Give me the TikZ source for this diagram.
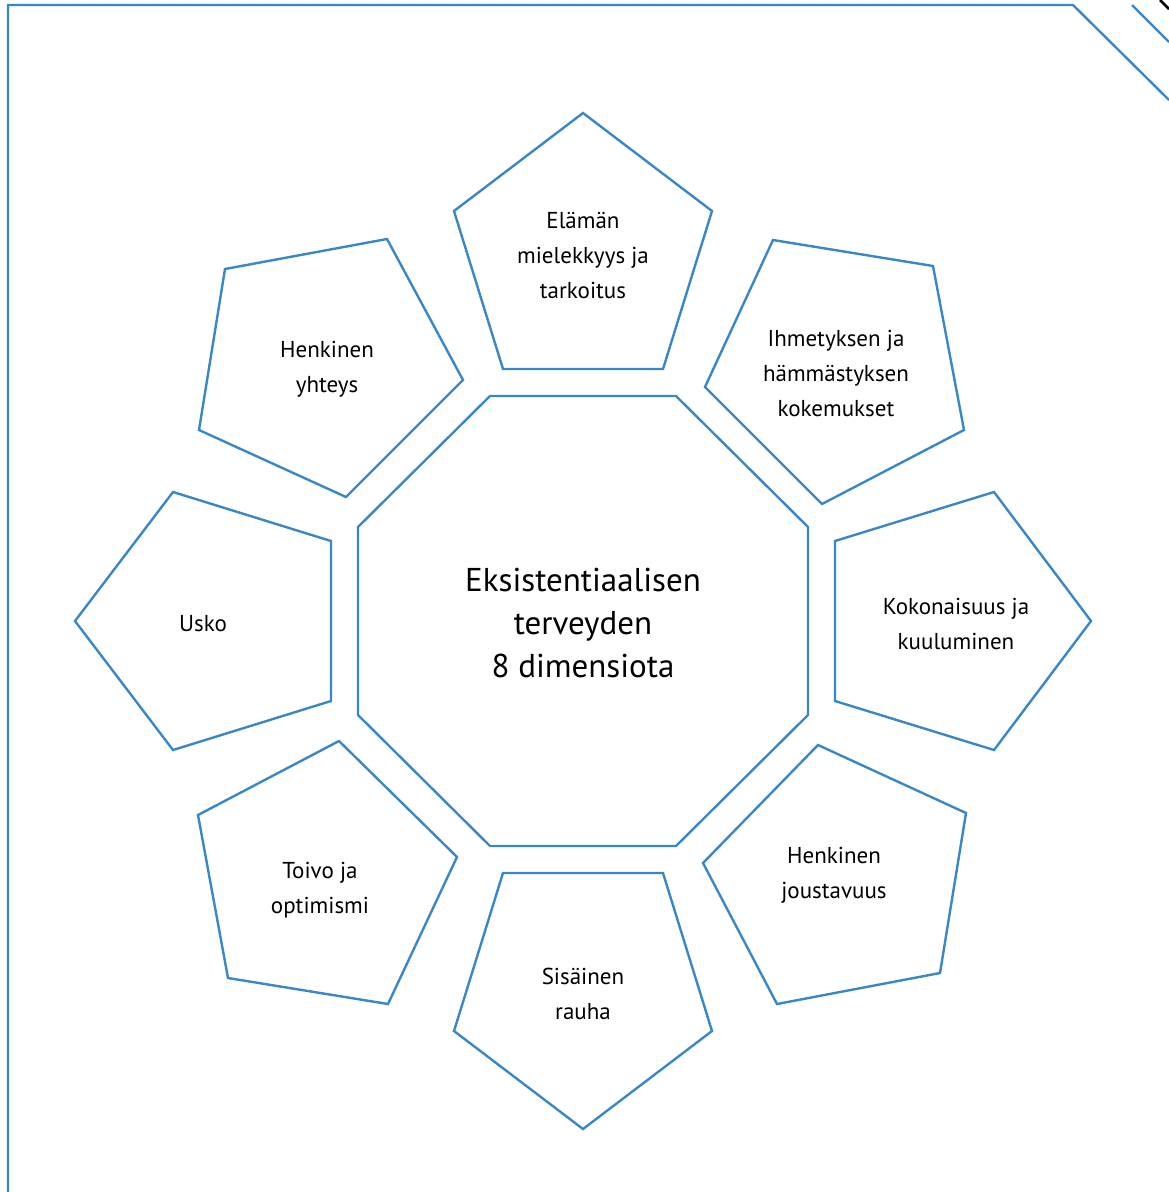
\documentclass[tikz,border=0pt]{standalone}
\usepackage{fontspec}
\setmainfont{PT Sans}
\definecolor{fblue}{HTML}{3A87C8}
\tikzset{
  shp/.style={draw=fblue, line width=2.4pt, line join=miter},
  lbl/.style={align=center, font=\fontsize{23}{35}\selectfont, inner sep=0pt},
  ctr/.style={align=center, font=\fontsize{33}{43}\selectfont, inner sep=0pt}
}
\begin{document}
\begin{tikzpicture}[x=1pt,y=-1pt]
\useasboundingbox (0,0) rectangle (1169,1192);
% frame
\draw[shp] (8,1192) -- (8,5) -- (1073,5) -- (1169,100);
\draw[shp] (1132,5) -- (1169,42);
\draw[line width=2.5pt] (1160,0) -- (1169,9);
% octagon
\draw[shp] (490,396) -- (676,396) -- (808,527) -- (808,715) -- (676,846) -- (490,846) -- (358,715) -- (358,527) -- cycle;
\node[ctr] (c) at (583,623) {Eksistentiaalisen\\terveyden\\8 dimensiota};
% pentagons
\draw[shp] (583,113) -- (712,211) -- (663,369) -- (503,369) -- (454,211) -- cycle;
\node[lbl] (p1) at (583,256) {Elämän\\mielekkyys ja\\tarkoitus};
\draw[shp] (773,240) -- (933,266) -- (964,430) -- (822,504) -- (705,387) -- cycle;
\node[lbl] (p2) at (836,373) {Ihmetyksen ja\\hämmästyksen\\kokemukset};
\draw[shp] (835,541) -- (994,492) -- (1091,621) -- (994,750) -- (835,701) -- cycle;
\node[lbl] (p3) at (956,624) {Kokonaisuus ja\\kuuluminen};
\draw[shp] (818,745) -- (966,813) -- (940,973) -- (777,1004) -- (703,863) -- cycle;
\node[lbl] (p4) at (834,875) {Henkinen\\joustavuus};
\draw[shp] (503,873) -- (663,873) -- (712,1031) -- (583,1129) -- (454,1031) -- cycle;
\node[lbl] (p5) at (583,994) {Sisäinen\\rauha};
\draw[shp] (339,741) -- (457,857) -- (388,1004) -- (228,978) -- (198,815) -- cycle;
\node[lbl] (p6) at (320,890) {Toivo ja\\optimismi};
\draw[shp] (173,492) -- (331,541) -- (331,701) -- (173,750) -- (75,621) -- cycle;
\node[lbl] (p7) at (203,624) {Usko};
\draw[shp] (225,269) -- (387,239) -- (463,380) -- (346,497) -- (199,430) -- cycle;
\node[lbl] (p8) at (327,369) {Henkinen\\yhteys};
\end{tikzpicture}
\end{document}
